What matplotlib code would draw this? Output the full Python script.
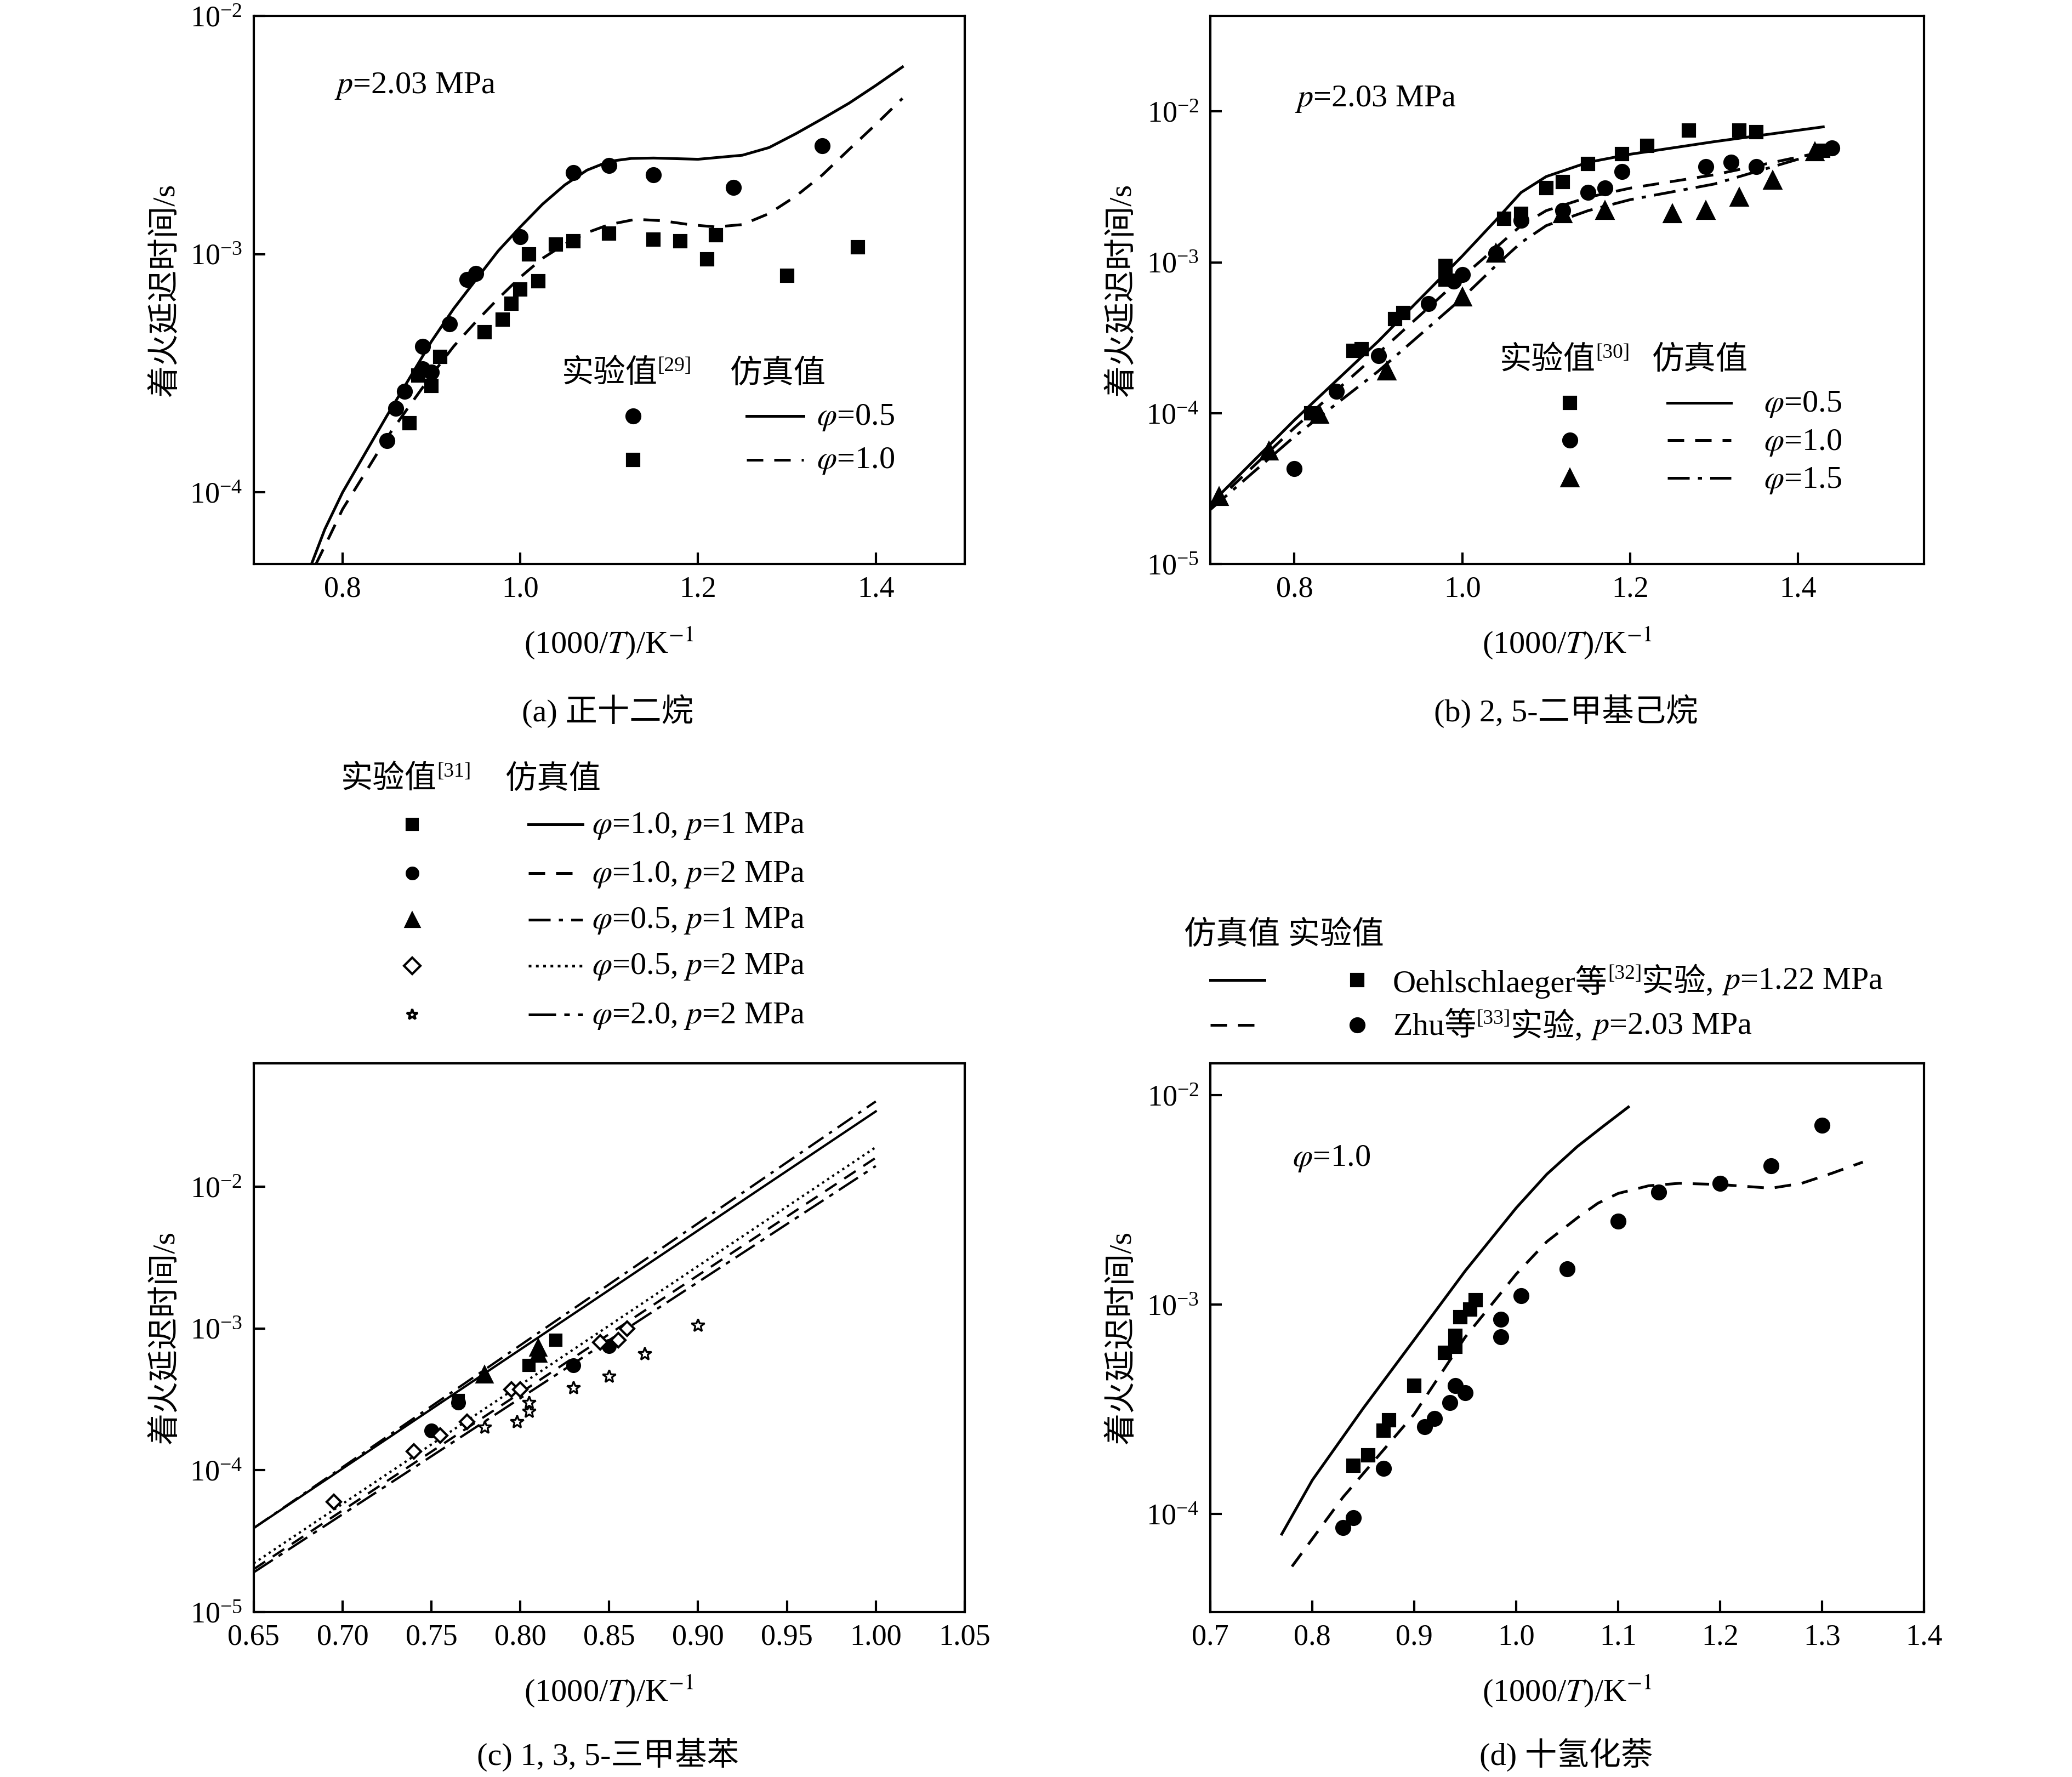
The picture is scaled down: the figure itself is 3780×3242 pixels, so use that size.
import matplotlib
matplotlib.use("Agg")
import matplotlib.pyplot as plt
from matplotlib.lines import Line2D
from matplotlib.ticker import LogLocator, NullLocator, FixedLocator

plt.rcParams['font.family'] = ['Liberation Serif', 'Noto Sans CJK SC']
plt.rcParams['mathtext.fontset'] = 'stix'
plt.rcParams['font.size'] = 13

# ---------------- data ----------------
# (a) n-dodecane
a_circ_x = [0.85, 0.86, 0.87, 0.89, 0.89, 0.90, 0.92, 0.94, 0.95, 1.00, 1.06, 1.10, 1.15, 1.24, 1.34]
a_circ_y = [1.65e-4, 2.25e-4, 2.65e-4, 4.1e-4, 3.3e-4, 3.2e-4, 5.1e-4, 7.8e-4, 8.3e-4, 1.18e-3, 2.2e-3, 2.35e-3, 2.15e-3, 1.9e-3, 2.85e-3]
a_sq_x = [0.875, 0.885, 0.90, 0.91, 0.96, 0.98, 0.99, 1.00, 1.01, 1.02, 1.04, 1.06, 1.10, 1.15, 1.18, 1.21, 1.22, 1.30, 1.38]
a_sq_y = [1.95e-4, 3.1e-4, 2.8e-4, 3.7e-4, 4.7e-4, 5.3e-4, 6.2e-4, 7.1e-4, 1.0e-3, 7.7e-4, 1.1e-3, 1.13e-3, 1.22e-3, 1.15e-3, 1.13e-3, 9.5e-4, 1.2e-3, 8.1e-4, 1.07e-3]
a_sol_x = [0.765, 0.78, 0.80, 0.825, 0.85, 0.875, 0.90, 0.925, 0.95, 0.975, 1.00, 1.025, 1.05, 1.075, 1.10, 1.125, 1.15, 1.20, 1.25, 1.28, 1.31, 1.34, 1.37, 1.40, 1.43]
a_sol_y = [5e-5, 7e-5, 1e-4, 1.45e-4, 2.1e-4, 3e-4, 4.3e-4, 5.9e-4, 7.8e-4, 1.03e-3, 1.3e-3, 1.62e-3, 1.95e-3, 2.25e-3, 2.45e-3, 2.52e-3, 2.53e-3, 2.5e-3, 2.6e-3, 2.8e-3, 3.2e-3, 3.7e-3, 4.3e-3, 5.1e-3, 6.1e-3]
a_das_x = [0.77, 0.785, 0.80, 0.825, 0.85, 0.875, 0.90, 0.925, 0.95, 0.975, 1.00, 1.025, 1.05, 1.075, 1.10, 1.13, 1.16, 1.19, 1.22, 1.25, 1.28, 1.31, 1.34, 1.37, 1.40, 1.43]
a_das_y = [5e-5, 6.5e-5, 8.5e-5, 1.2e-4, 1.7e-4, 2.3e-4, 3.1e-4, 4.1e-4, 5.2e-4, 6.5e-4, 8e-4, 9.6e-4, 1.1e-3, 1.23e-3, 1.33e-3, 1.4e-3, 1.38e-3, 1.33e-3, 1.3e-3, 1.33e-3, 1.48e-3, 1.75e-3, 2.15e-3, 2.75e-3, 3.5e-3, 4.5e-3]

# (b) 2,5-dimethylhexane
b_sq_x = [0.82, 0.87, 0.88, 0.92, 0.93, 0.98, 0.98, 1.05, 1.07, 1.10, 1.12, 1.15, 1.19, 1.22, 1.27, 1.33, 1.35, 1.43]
b_sq_y = [1.0e-4, 2.6e-4, 2.65e-4, 4.2e-4, 4.6e-4, 7.7e-4, 9.5e-4, 1.95e-3, 2.1e-3, 3.1e-3, 3.4e-3, 4.5e-3, 5.2e-3, 5.9e-3, 7.5e-3, 7.5e-3, 7.3e-3, 5.5e-3]
b_circ_x = [0.80, 0.85, 0.90, 0.96, 0.99, 1.00, 1.04, 1.07, 1.12, 1.15, 1.17, 1.19, 1.29, 1.32, 1.35, 1.44]
b_circ_y = [4.3e-5, 1.4e-4, 2.4e-4, 5.3e-4, 7.5e-4, 8.3e-4, 1.15e-3, 1.9e-3, 2.2e-3, 2.9e-3, 3.1e-3, 4.0e-3, 4.3e-3, 4.6e-3, 4.3e-3, 5.7e-3]
b_tri_x = [0.71, 0.77, 0.83, 0.91, 1.00, 1.04, 1.12, 1.17, 1.25, 1.29, 1.33, 1.37, 1.42]
b_tri_y = [2.8e-5, 5.6e-5, 9.8e-5, 1.9e-4, 5.9e-4, 1.15e-3, 2.1e-3, 2.2e-3, 2.1e-3, 2.2e-3, 2.7e-3, 3.5e-3, 5.4e-3]
b_line_x = [0.70, 0.80, 0.90, 1.00, 1.04, 1.07, 1.10, 1.15, 1.20, 1.30, 1.43]
b_sol_y = [2.5e-5, 9e-5, 3e-4, 1.1e-3, 1.9e-3, 2.9e-3, 3.7e-3, 4.6e-3, 5.2e-3, 6.3e-3, 7.9e-3]
b_das_y = [2.4e-5, 8e-5, 2.5e-4, 8e-4, 1.25e-3, 1.75e-3, 2.2e-3, 2.7e-3, 3.1e-3, 3.8e-3, 5.4e-3]
b_dd_y = [2.3e-5, 7e-5, 1.9e-4, 5.8e-4, 9.5e-4, 1.35e-3, 1.75e-3, 2.2e-3, 2.6e-3, 3.3e-3, 5.4e-3]

# (c) 1,3,5-trimethylbenzene
c_line_x = [0.65, 1.00]
c_l1_y = [3.9e-5, 3.4e-2]   # phi=1.0, p=1
c_l2_y = [2.0e-5, 1.6e-2]   # phi=1.0, p=2
c_l3_y = [3.9e-5, 4.0e-2]   # phi=0.5, p=1
c_l4_y = [2.2e-5, 1.9e-2]   # phi=0.5, p=2
c_l5_y = [1.9e-5, 1.4e-2]   # phi=2.0, p=2
c_sq_x = [0.765, 0.805, 0.82]
c_sq_y = [3.1e-4, 5.5e-4, 8.3e-4]
c_circ_x = [0.75, 0.765, 0.83, 0.85]
c_circ_y = [1.9e-4, 3.0e-4, 5.5e-4, 7.5e-4]
c_tri_x = [0.78, 0.81, 0.81]
c_tri_y = [4.7e-4, 7.3e-4, 6.6e-4]
c_dia_x = [0.695, 0.74, 0.755, 0.77, 0.795, 0.80, 0.845, 0.855, 0.86]
c_dia_y = [6e-5, 1.35e-4, 1.75e-4, 2.2e-4, 3.7e-4, 3.7e-4, 8e-4, 8.3e-4, 1.0e-3]
c_star_x = [0.78, 0.798, 0.805, 0.805, 0.83, 0.85, 0.87, 0.90]
c_star_y = [2.0e-4, 2.2e-4, 2.6e-4, 3.0e-4, 3.8e-4, 4.6e-4, 6.6e-4, 1.05e-3]

# (d) decalin
d_sol_x = [0.77, 0.80, 0.85, 0.90, 0.95, 1.00, 1.03, 1.06, 1.085, 1.11]
d_sol_y = [8e-5, 1.45e-4, 3.2e-4, 6.8e-4, 1.45e-3, 2.9e-3, 4.2e-3, 5.7e-3, 7.1e-3, 8.8e-3]
d_das_x = [0.78, 0.83, 0.90, 0.95, 1.00, 1.03, 1.06, 1.08, 1.10, 1.13, 1.16, 1.20, 1.25, 1.28, 1.31, 1.34]
d_das_y = [5.6e-5, 1.2e-4, 3.0e-4, 7e-4, 1.4e-3, 2.0e-3, 2.6e-3, 3.05e-3, 3.4e-3, 3.7e-3, 3.8e-3, 3.75e-3, 3.6e-3, 3.8e-3, 4.25e-3, 4.8e-3]
d_sq_x = [0.84, 0.855, 0.87, 0.875, 0.90, 0.93, 0.94, 0.94, 0.945, 0.955, 0.96]
d_sq_y = [1.7e-4, 1.9e-4, 2.5e-4, 2.8e-4, 4.1e-4, 5.9e-4, 6.3e-4, 7.1e-4, 8.7e-4, 9.5e-4, 1.05e-3]
d_circ_x = [0.83, 0.84, 0.87, 0.91, 0.92, 0.935, 0.94, 0.95, 0.985, 0.985, 1.005, 1.05, 1.10, 1.14, 1.20, 1.25, 1.30]
d_circ_y = [8.6e-5, 9.6e-5, 1.65e-4, 2.6e-4, 2.85e-4, 3.4e-4, 4.1e-4, 3.8e-4, 8.5e-4, 7e-4, 1.1e-3, 1.48e-3, 2.5e-3, 3.45e-3, 3.8e-3, 4.6e-3, 7.2e-3]

# ---------------- figure ----------------
W, H = 1568.0, 1345.0
fig = plt.figure(figsize=(12.6, 10.807), dpi=300)
renderer = fig.canvas.get_renderer()

def box(x0, x1, y0, y1):
    return [x0 / W, 1 - y1 / H, (x1 - x0) / W, (y1 - y0) / H]

def fx(x):
    return x / W

def fy(y):
    return 1 - y / H

axa = fig.add_axes(box(192, 730, 12, 427))
axb = fig.add_axes(box(916, 1456, 12, 427))
axc = fig.add_axes(box(192, 730, 805, 1220))
axd = fig.add_axes(box(916, 1456, 805, 1220))

ms = 6
kw = dict(color='black', linestyle='none')
dd_long = (0, (8, 3, 1.5, 3))

# (a)
axa.plot(a_sol_x, a_sol_y, 'k-', lw=1.2)
axa.plot(a_das_x, a_das_y, 'k', ls=(0, (6, 4)), lw=1.2)
axa.plot(a_circ_x, a_circ_y, marker='o', ms=ms, **kw)
axa.plot(a_sq_x, a_sq_y, marker='s', ms=ms - 0.5, **kw)
axa.set_xlim(0.7, 1.5)
axa.set_ylim(5e-5, 1e-2)
axa.xaxis.set_major_locator(FixedLocator([0.8, 1.0, 1.2, 1.4]))

# (b)
axb.plot(b_line_x, b_sol_y, 'k-', lw=1.2)
axb.plot(b_line_x, b_das_y, 'k', ls=(0, (6, 4)), lw=1.2)
axb.plot(b_line_x, b_dd_y, 'k', ls=dd_long, lw=1.2)
axb.plot(b_sq_x, b_sq_y, marker='s', ms=ms - 0.5, **kw)
axb.plot(b_circ_x, b_circ_y, marker='o', ms=ms, **kw)
axb.plot(b_tri_x, b_tri_y, marker='^', ms=ms + 1, **kw)
axb.set_xlim(0.7, 1.55)
axb.set_ylim(1e-5, 4.3e-2)
axb.xaxis.set_major_locator(FixedLocator([0.8, 1.0, 1.2, 1.4]))

# (c)
axc.plot(c_line_x, c_l1_y, 'k-', lw=1.0)
axc.plot(c_line_x, c_l2_y, 'k', ls=(0, (6, 4)), lw=1.0)
axc.plot(c_line_x, c_l3_y, 'k', ls=dd_long, lw=1.0)
axc.plot(c_line_x, c_l4_y, 'k', ls=':', lw=1.0)
axc.plot(c_line_x, c_l5_y, 'k', ls=(0, (10, 3, 2, 3)), lw=1.0)
axc.plot(c_sq_x, c_sq_y, marker='s', ms=ms - 1, **kw)
axc.plot(c_circ_x, c_circ_y, marker='o', ms=ms - 0.5, **kw)
axc.plot(c_tri_x, c_tri_y, marker='^', ms=ms + 0.5, **kw)
axc.plot(c_dia_x, c_dia_y, marker='D', ms=ms - 1.5, mfc='white', mec='black', mew=1.0, linestyle='none')
axc.plot(c_star_x, c_star_y, marker='*', ms=ms, mfc='white', mec='black', mew=0.8, linestyle='none')
axc.set_xlim(0.65, 1.05)
axc.set_ylim(1e-5, 7.4e-2)
axc.xaxis.set_major_locator(FixedLocator([0.65, 0.70, 0.75, 0.80, 0.85, 0.90, 0.95, 1.00, 1.05]))
axc.xaxis.set_major_formatter(plt.FuncFormatter(lambda v, p: f"{v:.2f}"))

# (d)
axd.plot(d_sol_x, d_sol_y, 'k-', lw=1.2)
axd.plot(d_das_x, d_das_y, 'k', ls=(0, (6, 4)), lw=1.2)
axd.plot(d_sq_x, d_sq_y, marker='s', ms=ms - 0.5, **kw)
axd.plot(d_circ_x, d_circ_y, marker='o', ms=ms, **kw)
axd.set_xlim(0.7, 1.4)
axd.set_ylim(3.4e-5, 1.42e-2)
axd.xaxis.set_major_locator(FixedLocator([0.7, 0.8, 0.9, 1.0, 1.1, 1.2, 1.3, 1.4]))

for ax in (axa, axb, axc, axd):
    ax.set_yscale('log')
    ax.yaxis.set_major_locator(LogLocator(base=10, numticks=10))
    ax.yaxis.set_minor_locator(NullLocator())
    ax.tick_params(direction='in', labelsize=13, length=5, width=1, pad=5)
    ax.set_xlabel(r'(1000/$T$)/K$^{-1}$', fontsize=14, labelpad=10)
    ax.set_ylabel('着火延迟时间/s', fontsize=14, labelpad=4)
    for s in ax.spines.values():
        s.set_linewidth(1.0)

# ---------------- annotations / legends ----------------
tk = dict(fontsize=14, va='center', ha='left')

def chain(x, y, parts):
    # parts: (text, fontsize, raise_in_px_of_reference)
    xf = fx(x)
    for s, size, dy in parts:
        t = fig.text(xf, fy(y - dy), s, fontsize=size, va='center', ha='left')
        bb = t.get_window_extent(renderer)
        xf += bb.width / fig.bbox.width

def seg(x0, x1, y, ls):
    fig.add_artist(Line2D([fx(x0), fx(x1)], [fy(y), fy(y)], color='black', lw=1.2, ls=ls))

def mark(x, y, m, size, filled=True):
    fig.add_artist(Line2D([fx(x)], [fy(y)], marker=m, ms=size, color='black',
                          mfc='black' if filled else 'white', mec='black', linestyle='none'))

def sup(ref):
    return [('实验值', 14, 0), (ref, 9, 6)]

fig.text(fx(253), fy(65), r'$p$=2.03 MPa', **tk)
chain(425, 283, sup('[29]'))
fig.text(fx(552), fy(283), '仿真值', **tk)
mark(479, 315, 'o', ms)
mark(479, 348, 's', ms - 0.5)
seg(565, 608, 315, '-')
seg(565, 608, 348, (0, (6, 4)))
fig.text(fx(618), fy(316), r'$\varphi$=0.5', **tk)
fig.text(fx(618), fy(349), r'$\varphi$=1.0', **tk)

fig.text(fx(980), fy(75), r'$p$=2.03 MPa', **tk)
chain(1135, 273, sup('[30]'))
fig.text(fx(1250), fy(273), '仿真值', **tk)
mark(1188, 305, 's', ms - 0.5)
mark(1188, 333, 'o', ms)
mark(1188, 362, '^', ms + 1)
seg(1262, 1310, 305, '-')
seg(1262, 1310, 333, (0, (6, 4)))
seg(1262, 1310, 362, dd_long)
fig.text(fx(1335), fy(306), r'$\varphi$=0.5', **tk)
fig.text(fx(1335), fy(335), r'$\varphi$=1.0', **tk)
fig.text(fx(1335), fy(364), r'$\varphi$=1.5', **tk)

chain(258, 590, sup('[31]'))
fig.text(fx(382), fy(590), '仿真值', **tk)
c_rows = [(624, 's', True, '-', r'$\varphi$=1.0, $p$=1 MPa'),
          (661, 'o', True, (0, (6, 4)), r'$\varphi$=1.0, $p$=2 MPa'),
          (696, '^', True, dd_long, r'$\varphi$=0.5, $p$=1 MPa'),
          (731, 'D', False, ':', r'$\varphi$=0.5, $p$=2 MPa'),
          (768, '*', False, (0, (10, 3, 2, 3)), r'$\varphi$=2.0, $p$=2 MPa')]
for y, m, f, ls, lab in c_rows:
    mark(312, y, m, ms - 1 if m != '^' else ms, f)
    seg(400, 441, y, ls)
    fig.text(fx(448), fy(y + 1), lab, **tk)

fig.text(fx(896), fy(708), '仿真值 实验值', **tk)
seg(916, 957, 742, '-')
seg(916, 957, 776, (0, (6, 4)))
mark(1027, 742, 's', ms - 0.5)
mark(1027, 776, 'o', ms)
chain(1054, 743, [('Oehlschlaeger等', 14, 0), ('[32]', 9, 6), ('实验, ', 14, 0), (r'$p$=1.22 MPa', 14, 0)])
chain(1054, 777, [('Zhu等', 14, 0), ('[33]', 9, 6), ('实验, ', 14, 0), (r'$p$=2.03 MPa', 14, 0)])
fig.text(fx(978), fy(877), r'$\varphi$=1.0', **tk)

cap = dict(fontsize=14, ha='center', va='center')
fig.text(fx(460), fy(538), '(a) 正十二烷', **cap)
fig.text(fx(1185), fy(538), '(b) 2, 5-二甲基己烷', **cap)
fig.text(fx(460), fy(1328), '(c) 1, 3, 5-三甲基苯', **cap)
fig.text(fx(1185), fy(1328), '(d) 十氢化萘', **cap)

fig.savefig('out.png', dpi=300)
